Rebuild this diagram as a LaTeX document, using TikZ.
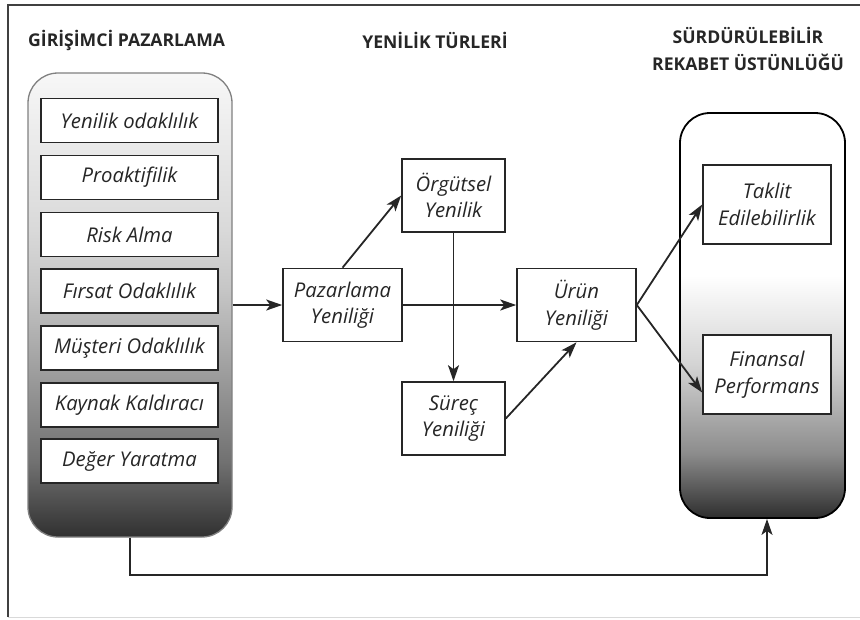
\documentclass[tikz,border=0pt]{standalone}
\usepackage{fontspec}
\setmainfont{Open Sans}
\usetikzlibrary{arrows.meta}

\newcommand\itemfont{\fontsize{20.3}{26.5}\selectfont\itshape}
\newcommand\headfont{\fontsize{17.6}{27}\selectfont\bfseries}

\pgfdeclareverticalshading{leftfade}{100bp}{color(0bp)=(black!81); color(25bp)=(black!81); color(33bp)=(black!56); color(45bp)=(black!34); color(52bp)=(black!22); color(58bp)=(black!15); color(75bp)=(black!3); color(100bp)=(black!3)}
\pgfdeclareverticalshading{rightfade}{100bp}{color(0bp)=(black!82); color(25bp)=(black!82); color(33bp)=(black!45); color(44bp)=(black!17); color(55bp)=(white); color(100bp)=(white)}

\begin{document}
\begin{tikzpicture}[x=1pt, y=-1pt,
  item/.style={rectangle, draw=black!85, fill=white, line width=1.6pt, font=\itemfont, text=black!85, align=center, inner sep=0pt},
  factor/.style={item, minimum width=177, minimum height=44},
  kind/.style={item, minimum height=73},
  outcome/.style={item, minimum width=128, minimum height=79},
  group/.style={rectangle, rounded corners=30pt, inner sep=0pt},
  head/.style={font=\headfont, text=black!85, align=center, inner sep=0pt},
  arr/.style={-{Stealth[length=16pt, width=11pt, inset=4pt]}, line width=1.8pt, draw=black!85}]

\useasboundingbox (0,0) rectangle (860,619);
\draw[line width=2.5pt, black!75] (860,5) -- (8,5) -- (8,617);
\draw[line width=1pt, black!15] (8,617) -- (860,617);

\node[head, anchor=west] (t1) at (28,40) {GİRİŞİMCİ PAZARLAMA};
\node[head] (t2) at (435,40) {YENİLİK TÜRLERİ};
\node[head] (t3) at (748,48.5) {SÜRDÜRÜLEBİLİR\\REKABET ÜSTÜNLÜĞÜ};

\node[group, shading=leftfade, draw=black!50, line width=1.3pt, minimum width=204, minimum height=464] (lc) at (130,305) {};
\node[group, shading=rightfade, draw=black, line width=1.8pt, minimum width=165, minimum height=405] (rc) at (762.5,315.5) {};

\draw
(129.5,120.5) node[factor] (f1) {Yenilik odaklılık}
(129.5,177.5) node[factor] (f2) {Proaktifilik}
(129.5,234.5) node[factor] (f3) {Risk Alma}
(129.5,291) node[factor] (f4) {Fırsat Odaklılık}
(129.5,348) node[factor] (f5) {Müşteri Odaklılık}
(129.5,405) node[factor] (f6) {Kaynak Kaldıracı}
(129.5,461) node[factor] (f7) {Değer Yaratma};

\draw
(342.5,305) node[kind, minimum width=119] (paz) {Pazarlama\\Yeniliği}
(453.5,195.5) node[kind, minimum width=103] (org) {Örgütsel\\Yenilik}
(453.5,418.5) node[kind, minimum width=103] (sur) {Süreç\\Yeniliği}
(576.5,305) node[kind, minimum width=119] (urun) {Ürün\\Yeniliği}
(767,204.5) node[outcome] (tak) {Taklit\\Edilebilirlik}
(767,374.5) node[outcome] (fin) {Finansal\\Performans};

\draw[arr] (lc.east) -- (paz.west);
\draw[arr] (paz.north) -- (org.west);
\draw[arr] (paz.east) -- (urun.west);
\draw[arr] (org.south) -- (sur.north);
\draw[arr] (sur.east) -- (urun.south);
\draw[arr] (urun.east) -- (tak.west);
\draw[arr] (urun.east) -- ([yshift=-18pt]fin.west);
\draw[arr] (lc.south) -- ++(0,37) -| ([xshift=4.5pt]rc.south);

\end{tikzpicture}
\end{document}
